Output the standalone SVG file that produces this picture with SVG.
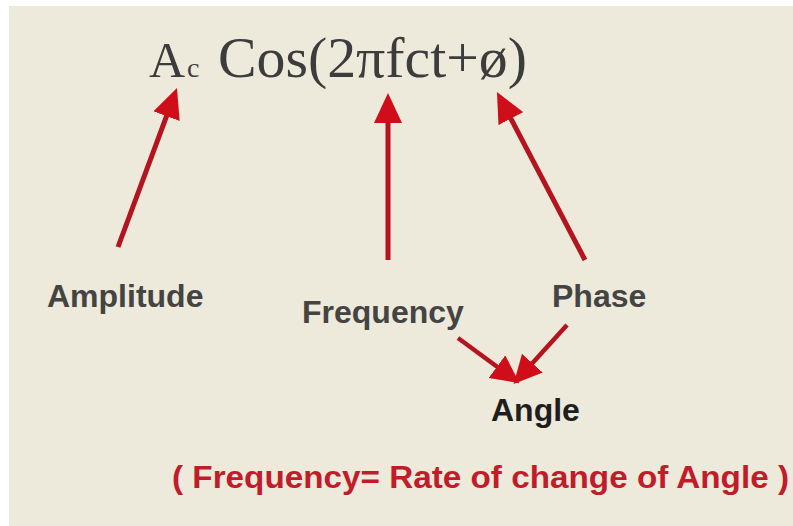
<svg xmlns="http://www.w3.org/2000/svg" width="793" height="526" viewBox="0 0 793 526">
<defs>
<style>
.lbl{font-family:"Liberation Sans",Arial,sans-serif;font-weight:bold;font-size:32px;fill:#444442}
.formula{font-family:"Liberation Serif","Times New Roman",serif;fill:#3c3c3c}
.conn{stroke:#B3141E;fill:none;stroke-linecap:butt}
.big{stroke-width:5;marker-end:url(#ahBig)}
.small{stroke-width:4.5;marker-end:url(#ahSmall)}
.note{font-family:"Liberation Sans",Arial,sans-serif;font-weight:bold;font-size:32px;fill:#C01C2A}
</style>
<marker id="ahBig" viewBox="0 0 30 28" refX="20" refY="14" markerWidth="30" markerHeight="28" markerUnits="userSpaceOnUse" orient="auto">
<path d="M0,0 L30,14 L0,28 z" fill="#D00E1A"/>
</marker>
<marker id="ahSmall" viewBox="0 0 28 28" refX="18" refY="14" markerWidth="28" markerHeight="28" markerUnits="userSpaceOnUse" orient="auto">
<path d="M0,0 L28,14 L0,28 z" fill="#D00E1A"/>
</marker>
</defs>
<rect x="0" y="0" width="793" height="526" fill="#ffffff"/>
<rect x="9" y="6" width="784" height="520" fill="#EDE9DB"/>
<g id="formula">
<text class="formula" x="149" y="77" font-size="50">A</text>
<text class="formula" x="187" y="77" font-size="28">c</text>
<text class="formula" x="218" y="77" font-size="56" textLength="309" lengthAdjust="spacingAndGlyphs">Cos(2πfct+ø)</text>
</g>
<g id="connectors">
<line class="conn big" x1="118" y1="247" x2="173.5" y2="97.4"/>
<line class="conn big" x1="388" y1="260" x2="388" y2="103"/>
<line class="conn big" x1="585" y1="260" x2="501.6" y2="100.9"/>
<line class="conn small" x1="458" y1="338" x2="511.5" y2="377.3"/>
<line class="conn small" x1="567" y1="325" x2="520.3" y2="376.5"/>
</g>
<g id="amplitude"><text class="lbl" x="47" y="307">Amplitude</text></g>
<g id="frequency"><text class="lbl" x="302" y="323" font-size="33">Frequency</text></g>
<g id="phase"><text class="lbl" x="552" y="307">Phase</text></g>
<g id="angle"><text class="lbl" x="491" y="421" font-size="30" style="fill:#1e1e1e">Angle</text></g>
<g id="note"><text class="note" x="172" y="488" textLength="617" lengthAdjust="spacingAndGlyphs">( Frequency= Rate of change of Angle )</text></g>
</svg>
